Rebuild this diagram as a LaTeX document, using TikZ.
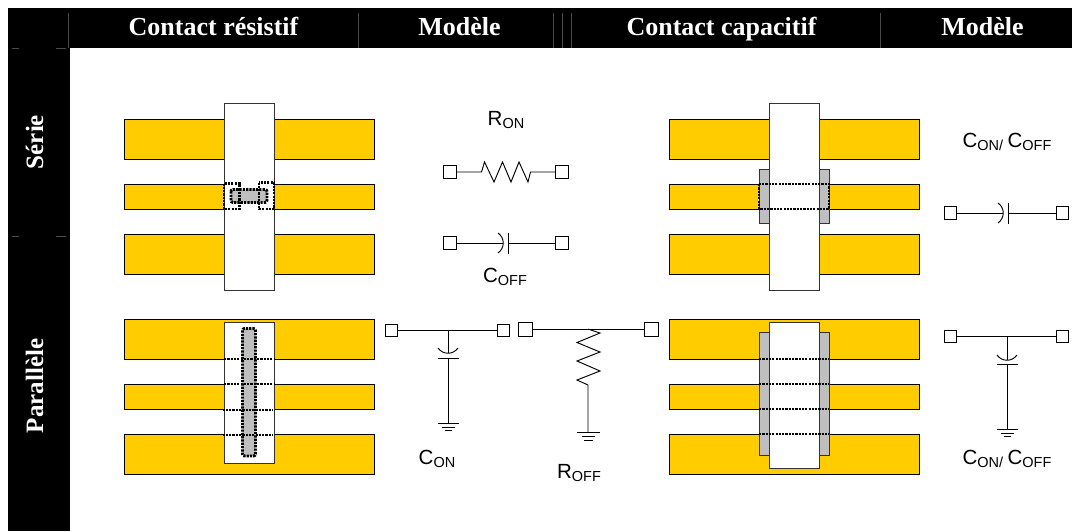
\documentclass[tikz,border=0pt]{standalone}
\usepackage{fontspec}
\setmainfont{Liberation Serif}
\newfontfamily\labelfont{Liberation Sans}
\definecolor{goldbar}{HTML}{FFCC00}
\definecolor{greypad}{HTML}{BFBFBF}
\definecolor{edgegrey}{HTML}{333333}
\definecolor{tickgrey}{HTML}{4A4A4A}
\newcommand{\modelname}[2]{{\labelfont\fontsize{20.5}{20}\selectfont #1\raisebox{-3.5pt}{\fontsize{14.5}{14}\selectfont #2}}}
\tikzset{
  band/.style={fill=black,draw=none},
  tick/.style={draw=tickgrey,line width=0.7pt},
  bar/.style={fill=goldbar,draw=black,line width=0.95pt},
  strip/.style={fill=white,draw=edgegrey,line width=0.95pt},
  pad/.style={fill=greypad,draw=edgegrey,line width=0.95pt},
  contactline/.style={draw=black,line width=2.9pt,dash pattern=on 2.2pt off 1.1pt},
  wire/.style={draw=black,line width=0.95pt},
  term/.style={draw=black,fill=white,line width=0.95pt,minimum size=12.5pt,inner sep=0pt},
  heading/.style={text=white,font=\bfseries\fontsize{26}{26}\selectfont,inner sep=0pt,anchor=base},
  sidehead/.style={text=white,font=\bfseries\fontsize{25}{25}\selectfont,inner sep=0pt,anchor=base,rotate=90},
  lab/.style={inner sep=0pt}
}
\begin{document}
\begin{tikzpicture}[x=1pt,y=-1pt]
\useasboundingbox (0,0) rectangle (1072,531);
% black header and side column
\draw [band] (8,8) rectangle (1072,48);
\draw [band] (8,48) rectangle (70,531);
\draw [tick] (68,13) -- (68,48);
\draw [tick] (358,13) -- (358,48);
\draw [tick] (553.5,13) -- (553.5,48);
\draw [tick] (562.5,13) -- (562.5,48);
\draw [tick] (571.5,13) -- (571.5,48);
\draw [tick] (880.5,13) -- (880.5,48);
\draw [tick] (12,48) -- (18.5,48);
\draw [tick] (56,48) -- (66,48);
\draw [tick] (12,236.5) -- (18.5,236.5);
\draw [tick] (56,236.5) -- (66,236.5);
\node [heading] (hres) at (213.5,35) {Contact résistif};
\node [heading] (hmodl) at (459.5,35) {Modèle};
\node [heading] (hcap) at (721.5,35) {Contact capacitif};
\node [heading] (hmodr) at (982.5,35) {Modèle};
\node [sidehead] (hser) at (43,142) {Série};
\node [sidehead] (hpar) at (43,386) {Parallèle};
% contact resistif, serie
\draw [bar] (124,119) rectangle (374,159);
\draw [bar] (124,184) rectangle (374,209);
\draw [bar] (124,234) rectangle (374,274);
\draw [strip] (224,103) rectangle (274,290);
\draw [contactline,rounded corners=2pt,fill=greypad] (231,189.5) rectangle (267,202.5);
\draw [contactline] (224,183.5) rectangle (239.5,209);
\draw [contactline] (259,182.5) rectangle (274,209);
% contact resistif, parallele
\draw [bar] (124,319) rectangle (374,359);
\draw [bar] (124,384) rectangle (374,409);
\draw [bar] (124,434) rectangle (374,474);
\draw [strip] (224,322.5) rectangle (274,463);
\draw [contactline,rounded corners=2pt,fill=greypad] (242.5,328.5) rectangle (255.5,456);
\draw [contactline] (224,359) -- (274,359);
\draw [contactline] (224,384) -- (274,384);
\draw [contactline] (222.5,410) -- (273,410);
\draw [contactline] (222.5,435) -- (273,435);
% contact capacitif, serie
\draw [bar] (669,119) rectangle (919,159);
\draw [bar] (669,184) rectangle (919,209);
\draw [bar] (669,234) rectangle (919,274);
\draw [pad] (759,169.5) rectangle (829,223.5);
\draw [strip] (769,103) rectangle (819,290);
\draw [contactline] (759,184) rectangle (829,209);
% contact capacitif, parallele
\draw [bar] (669,319) rectangle (919,359);
\draw [bar] (669,384) rectangle (919,409);
\draw [bar] (669,434) rectangle (919,474);
\draw [pad] (759,332.5) rectangle (829,455);
\draw [strip] (769,322.5) rectangle (819,468);
\draw [contactline] (759,359) -- (829,359);
\draw [contactline] (759,384) -- (829,384);
\draw [contactline] (759,409) -- (829,409);
\draw [contactline] (759,434) -- (829,434);
% modele Ron
\node [lab] (ron) at (506,120) {\modelname{R}{ON}};
\node [term] (ronl) at (450,172) {};
\node [term] (ronr) at (562,172) {};
\coordinate (rona) at (481.5,172);
\draw [wire] (ronl) -- (rona) -- (484.5,162) -- (494,182) -- (502.5,162) -- (511,182) -- (519,162) -- (528,182) -- (530.5,172) -- (ronr);
% modele Coff
\node [lab] (coff) at (505,277) {\modelname{C}{OFF}};
\node [term] (coffl) at (450,243) {};
\node [term] (coffr) at (562,243) {};
\coordinate (coffa) at (503,243);
\coordinate (coffb) at (508.5,243);
\draw [wire] (coffl) -- (coffa);
\draw [wire] (coffb) -- (coffr);
\draw [wire] (498,233) .. controls (505,238) and (505,248) .. (498,253);
\draw [wire] (508.5,232.5) -- (508.5,253.5);
% modele Con, parallele
\node [lab] (con) at (437,459) {\modelname{C}{ON}};
\node [term] (conl) at (391.5,330.5) {};
\node [term] (conr) at (503.5,330.5) {};
\coordinate (conj) at (448,330.5);
\coordinate (cona) at (448,353);
\coordinate (conb) at (448,358.5);
\coordinate (cong) at (448,423.5);
\draw [wire] (conl) -- (conr);
\draw [wire] (conj) -- (cona);
\draw [wire] (conb) -- (cong);
\draw [wire] (438,348) .. controls (443,355) and (453,355) .. (458,348);
\draw [wire] (437.5,358.5) -- (458.5,358.5);
\draw [wire] (437.5,423.5) -- (458.5,423.5);
\draw [wire] (441.5,427) -- (454.5,427);
\draw [wire] (444.5,430) -- (451.5,430);
% modele Roff, parallele
\node [lab] (roff) at (579,473) {\modelname{R}{OFF}};
\node [term,minimum size=14pt] (roffl) at (525.5,329) {};
\node [term,minimum size=14pt] (roffr) at (651,329) {};
\coordinate (roffj) at (588,329);
\coordinate (roffg) at (588,432.5);
\draw [wire] (roffl) -- (roffr);
\draw [wire] (roffj) -- (600,333) -- (577,342.5) -- (600,352) -- (577,361) -- (600,371) -- (577,380) -- (588,385) -- (roffg);
\draw [wire] (577,432.5) -- (600,432.5);
\draw [wire] (582,436) -- (595,436);
\draw [wire] (584,440) -- (592.5,440);
% modele capacitif, serie
\node [lab] (cserie) at (1007,142) {\modelname{C}{ON/}\hspace{4.5pt}\modelname{C}{OFF}};
\node [term] (cserl) at (950.5,213) {};
\node [term] (cserr) at (1062.5,213) {};
\coordinate (csera) at (1003,213);
\coordinate (cserb) at (1008.5,213);
\draw [wire] (cserl) -- (csera);
\draw [wire] (cserb) -- (cserr);
\draw [wire] (998,203) .. controls (1005,208) and (1005,218) .. (998,223);
\draw [wire] (1008.5,202.5) -- (1008.5,223.5);
% modele capacitif, parallele
\node [lab] (cpara) at (1007,459) {\modelname{C}{ON/}\hspace{4.5pt}\modelname{C}{OFF}};
\node [term] (cparl) at (950.5,336.5) {};
\node [term] (cparr) at (1062.5,336.5) {};
\coordinate (cparj) at (1007,336.5);
\coordinate (cpara1) at (1007,360);
\coordinate (cparb) at (1007,364.5);
\coordinate (cparg) at (1007,429.5);
\draw [wire] (cparl) -- (cparr);
\draw [wire] (cparj) -- (cpara1);
\draw [wire] (cparb) -- (cparg);
\draw [wire] (997,355) .. controls (1002,362) and (1012,362) .. (1017,355);
\draw [wire] (996.5,364.5) -- (1017.5,364.5);
\draw [wire] (996.5,429.5) -- (1017.5,429.5);
\draw [wire] (1000.5,433) -- (1013.5,433);
\draw [wire] (1003.5,436.5) -- (1010.5,436.5);
\end{tikzpicture}
\end{document}
